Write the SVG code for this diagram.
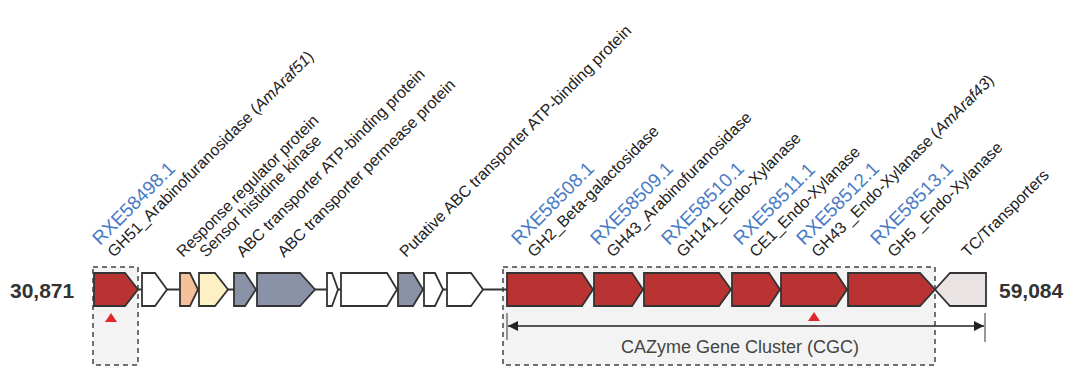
<svg xmlns="http://www.w3.org/2000/svg" width="1067" height="367" viewBox="0 0 1067 367">
  <style>
    .gene { stroke: #333; stroke-width: 1.8; stroke-linejoin: miter; }
    .cazy { fill: #b83331; }
    .plain { fill: #ffffff; }
    .rr { fill: #f5c19a; }
    .hk { fill: #fdf0c2; }
    .abc { fill: #8a92a7; }
    .tc { fill: #e9e3e3; }
    .box { fill: #f3f3f3; stroke: #444; stroke-width: 1.5; stroke-dasharray: 5 4; }
    .lbl { font-family: "Liberation Sans", Arial, sans-serif; font-size: 16px; fill: #222; }
    .acc { font-family: "Liberation Sans", Arial, sans-serif; font-size: 19px; fill: #4a7cc4; }
    .coord { font-family: "Liberation Sans", Arial, sans-serif; font-size: 21px; font-weight: bold; fill: #333; }
    .cgc { font-family: "Liberation Sans", Arial, sans-serif; font-size: 18px; fill: #444; }
    .mark { fill: #e3262b; }
  </style>
  <defs>
    <marker id="head" viewBox="0 0 10 10" refX="10" refY="5" markerWidth="10" markerHeight="10" markerUnits="userSpaceOnUse" orient="auto-start-reverse">
      <path d="M0,0 L10,5 L0,10 z" fill="#222"/>
    </marker>
  </defs>

  <rect width="1067" height="367" fill="#ffffff"/>

  <!-- highlighted regions -->
  <rect id="box-single" class="box" x="93" y="267" width="45" height="98"/>
  <rect id="box-cgc" class="box" x="503" y="267" width="432" height="98"/>

  <g id="connectors">
    <!-- chromosome backbone -->
    <line x1="94" y1="289.5" x2="985" y2="289.5" stroke="#333" stroke-width="2"/>
    <!-- CGC span -->
    <line x1="508" y1="326" x2="984" y2="326" stroke="#222" stroke-width="1.5" marker-start="url(#head)" marker-end="url(#head)"/>
    <line x1="507" y1="313" x2="507" y2="340" stroke="#555" stroke-width="1.2"/>
    <line x1="985" y1="313" x2="985" y2="342" stroke="#555" stroke-width="1.2"/>
  </g>

  <!-- genes -->
  <g id="gene-RXE58498"><polygon class="gene cazy" points="94,273 125,273 138,289.5 125,306 94,306"/></g>
  <g id="gene-02"><polygon class="gene plain" points="142,273 155,273 167,289.5 155,306 142,306"/></g>
  <g id="gene-rr"><polygon class="gene rr" points="180,273 190,273 198,289.5 190,306 180,306"/></g>
  <g id="gene-hk"><polygon class="gene hk" points="199,273 215,273 228,289.5 215,306 199,306"/></g>
  <g id="gene-abc-atp"><polygon class="gene abc" points="234,273 245,273 256,289.5 245,306 234,306"/></g>
  <g id="gene-abc-perm"><polygon class="gene abc" points="257,273 300,273 315,289.5 300,306 257,306"/></g>
  <g id="gene-07"><polygon class="gene plain" points="327,273 332,273 338,289.5 332,306 327,306"/></g>
  <g id="gene-08"><polygon class="gene plain" points="341,273 387,273 397,289.5 387,306 341,306"/></g>
  <g id="gene-abc-putative"><polygon class="gene abc" points="398,273 413,273 423,289.5 413,306 398,306"/></g>
  <g id="gene-10"><polygon class="gene plain" points="424,273 435,273 443,289.5 435,306 424,306"/></g>
  <g id="gene-11"><polygon class="gene plain" points="447,273 471,273 483,289.5 471,306 447,306"/></g>
  <g id="gene-RXE58508"><polygon class="gene cazy" points="507,273 582,273 593,289.5 582,306 507,306"/></g>
  <g id="gene-RXE58509"><polygon class="gene cazy" points="594,273 632,273 643,289.5 632,306 594,306"/></g>
  <g id="gene-RXE58510"><polygon class="gene cazy" points="644,273 719,273 731,289.5 719,306 644,306"/></g>
  <g id="gene-RXE58511"><polygon class="gene cazy" points="732,273 769,273 780,289.5 769,306 732,306"/></g>
  <g id="gene-RXE58512"><polygon class="gene cazy" points="781,273 836,273 847,289.5 836,306 781,306"/></g>
  <g id="gene-RXE58513"><polygon class="gene cazy" points="848,273 920,273 935,289.5 920,306 848,306"/></g>
  <g id="gene-tc"><polygon class="gene tc" points="935,289.5 950,273 986,273 986,306 950,306"/></g>

  <!-- characterised enzymes -->
  <polygon class="mark" points="111,313 117,322 105,322"/>
  <polygon class="mark" points="814,312 820,321 808,321"/>

  <!-- coordinates -->
  <text class="coord" x="10" y="298">30,871</text>
  <text class="coord" x="999" y="298">59,084</text>
  <text class="cgc" x="740" y="353" text-anchor="middle">CAZyme Gene Cluster (CGC)</text>

  <!-- gene annotations -->
  <g id="labels">
    <text class="acc" transform="translate(100,246) rotate(-45)">RXE58498.1</text>
    <text class="lbl" transform="translate(114,258) rotate(-45)">GH51_Arabinofuranosidase (<tspan font-style="italic">AmAraf51</tspan>)</text>
    <text class="lbl" transform="translate(183,258) rotate(-45)">Response regulator protein</text>
    <text class="lbl" transform="translate(206,258) rotate(-45)">Sensor histidine kinase</text>
    <text class="lbl" transform="translate(243,258) rotate(-45)">ABC transporter ATP-binding protein</text>
    <text class="lbl" transform="translate(284,258) rotate(-45)">ABC transporter permease protein</text>
    <text class="lbl" transform="translate(406,258) rotate(-45)">Putative ABC transporter ATP-binding protein</text>
    <text class="acc" transform="translate(519,246) rotate(-45)">RXE58508.1</text>
    <text class="lbl" transform="translate(534,258) rotate(-45)">GH2_Beta-galactosidase</text>
    <text class="acc" transform="translate(598,246) rotate(-45)">RXE58509.1</text>
    <text class="lbl" transform="translate(613,258) rotate(-45)">GH43_Arabinofuranosidase</text>
    <text class="acc" transform="translate(669,246) rotate(-45)">RXE58510.1</text>
    <text class="lbl" transform="translate(683,258) rotate(-45)">GH141_Endo-Xylanase</text>
    <text class="acc" transform="translate(741,246) rotate(-45)">RXE58511.1</text>
    <text class="lbl" transform="translate(756,258) rotate(-45)">CE1_Endo-Xylanase</text>
    <text class="acc" transform="translate(804,246) rotate(-45)">RXE58512.1</text>
    <text class="lbl" transform="translate(818,258) rotate(-45)">GH43 _Endo-Xylanase (<tspan font-style="italic">AmAraf43</tspan>)</text>
    <text class="acc" transform="translate(878,246) rotate(-45)">RXE58513.1</text>
    <text class="lbl" transform="translate(894,258) rotate(-45)">GH5 _Endo-Xylanase</text>
    <text class="lbl" transform="translate(968,258) rotate(-45)">TC/Transporters</text>
  </g>
</svg>
